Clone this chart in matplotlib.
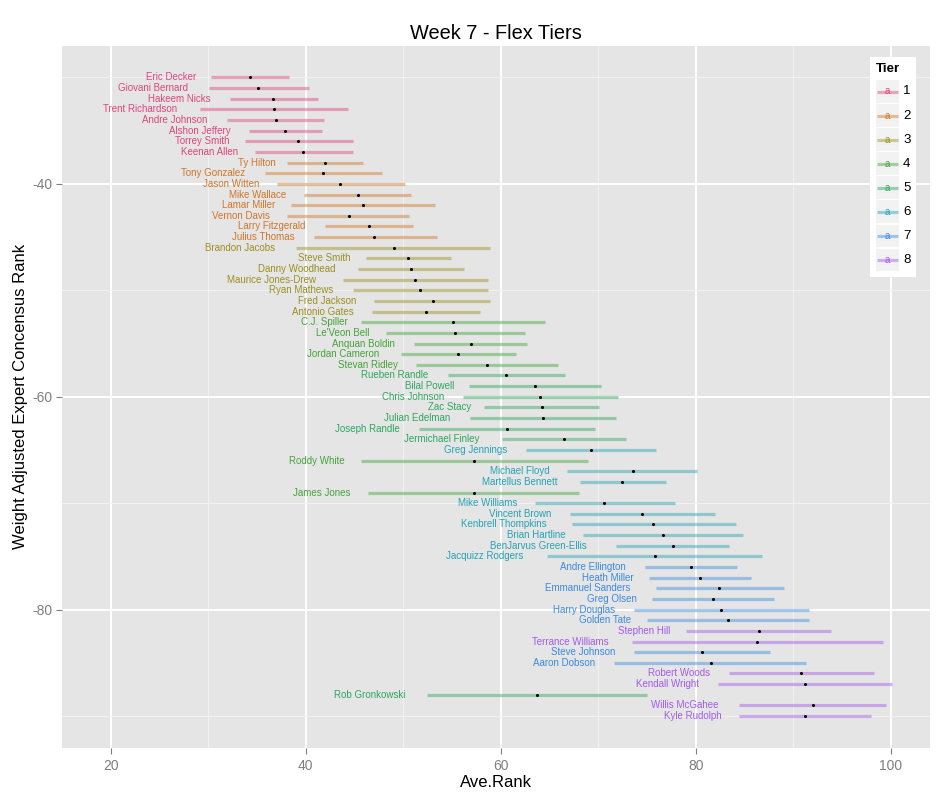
import matplotlib
matplotlib.use('Agg')
import matplotlib.pyplot as plt
from matplotlib.transforms import ScaledTranslation
from matplotlib.patches import Rectangle
from matplotlib.lines import Line2D

players = ["Eric Decker", "Giovani Bernard", "Hakeem Nicks", "Trent Richardson", "Andre Johnson",
           "Alshon Jeffery", "Torrey Smith", "Keenan Allen", "Ty Hilton", "Tony Gonzalez",
           "Jason Witten", "Mike Wallace", "Lamar Miller", "Vernon Davis", "Larry Fitzgerald",
           "Julius Thomas", "Brandon Jacobs", "Steve Smith", "Danny Woodhead", "Maurice Jones-Drew",
           "Ryan Mathews", "Fred Jackson", "Antonio Gates", "C.J. Spiller", "Le'Veon Bell",
           "Anquan Boldin", "Jordan Cameron", "Stevan Ridley", "Rueben Randle", "Bilal Powell",
           "Chris Johnson", "Zac Stacy", "Julian Edelman", "Joseph Randle", "Jermichael Finley",
           "Greg Jennings", "Roddy White", "Michael Floyd", "Martellus Bennett", "James Jones",
           "Mike Williams", "Vincent Brown", "Kenbrell Thompkins", "Brian Hartline",
           "BenJarvus Green-Ellis", "Jacquizz Rodgers", "Andre Ellington", "Heath Miller",
           "Emmanuel Sanders", "Greg Olsen", "Harry Douglas", "Golden Tate", "Stephen Hill",
           "Terrance Williams", "Steve Johnson", "Aaron Dobson", "Robert Woods", "Kendall Wright",
           "Rob Gronkowski", "Willis McGahee", "Kyle Rudolph"]

tiers = [1, 1, 1, 1, 1, 1, 1, 1, 2, 2,
         2, 2, 2, 2, 2, 2, 3, 3, 3, 3,
         3, 3, 3, 4, 4, 4, 4, 4, 5, 5,
         5, 5, 5, 5, 5, 6, 4, 6, 6, 4,
         6, 6, 6, 6, 6, 6, 7, 7, 7, 7,
         7, 7, 8, 8, 7, 7, 8, 8, 5, 8, 8]

consensus_rank = [-30, -31, -32, -33, -34, -35, -36, -37, -38, -39,
                  -40, -41, -42, -43, -44, -45, -46, -47, -48, -49,
                  -50, -51, -52, -53, -54, -55, -56, -57, -58, -59,
                  -60, -61, -62, -63, -64, -65, -66, -67, -68, -69,
                  -70, -71, -72, -73, -74, -75, -76, -77, -78, -79,
                  -80, -81, -82, -83, -84, -85, -86, -87, -88, -89, -90]

ave_rank = [34.3, 35.1, 36.6, 36.7, 36.9, 37.9, 39.2, 39.7, 41.95, 41.8,
            43.5, 45.3, 45.85, 44.4, 46.5, 47.0, 49.0, 50.5, 50.8, 51.2,
            51.7, 53.0, 52.3, 55.1, 55.3, 56.9, 55.65, 58.6, 60.5, 63.5,
            64.0, 64.2, 64.3, 60.6, 66.5, 69.2, 57.2, 73.5, 72.4, 57.2,
            70.6, 74.5, 75.6, 76.6, 77.6, 75.8, 79.5, 80.4, 82.4, 81.7,
            82.6, 83.3, 86.5, 86.3, 80.6, 81.5, 90.8, 91.2, 63.7, 92.0, 91.2]

rank_low = [30.3, 30.05, 32.2, 29.1, 31.9, 34.2, 33.8, 34.8, 38.05, 35.8,
            37.0, 39.8, 38.5, 38.1, 42.0, 40.8, 39.0, 46.2, 45.4, 43.8,
            44.8, 47.0, 46.8, 45.7, 48.2, 51.1, 49.8, 51.3, 54.6, 56.7,
            56.1, 58.3, 56.8, 51.6, 60.1, 62.6, 45.7, 66.8, 68.1, 46.4,
            63.5, 67.1, 67.3, 68.4, 71.8, 64.7, 74.8, 75.2, 75.9, 75.5,
            73.6, 75.0, 79.0, 73.4, 73.7, 71.6, 83.4, 82.3, 52.4, 84.4, 84.4]

rank_high = [38.3, 40.3, 41.2, 44.3, 41.9, 41.7, 44.8, 44.8, 45.9, 47.8,
             50.2, 50.8, 53.2, 50.6, 51.0, 53.4, 58.9, 54.9, 56.2, 58.7,
             58.7, 58.9, 57.9, 64.5, 62.5, 62.7, 61.6, 65.9, 66.6, 70.3,
             72.0, 70.1, 71.8, 69.6, 72.8, 75.9, 68.9, 80.1, 76.9, 68.0,
             77.9, 82.0, 84.1, 84.8, 83.4, 86.8, 84.2, 85.6, 89.0, 88.0,
             91.6, 91.6, 93.9, 99.2, 87.6, 91.3, 98.3, 100.1, 75.0, 99.5, 98.0]

tier_levels = [1, 2, 3, 4, 5, 6, 7, 8]
tier_colors = ['#E0457B', '#D0762A', '#9A9020', '#45A33A',
               '#2EA65E', '#25A3B5', '#3A8AE0', '#A25AEC']

x_ticks = [20, 40, 60, 80, 100]
y_ticks = [-80, -60, -40]

plt.rcParams['font.family'] = ['Liberation Sans', 'DejaVu Sans']
plt.rcParams['axes.unicode_minus'] = False

W, H = 950, 800
fig = plt.figure(figsize=(W / 100, H / 100), dpi=100)
fig.patch.set_facecolor('white')
ax = fig.add_axes([62 / W, 52 / H, 868 / W, 702.5 / H])
ax.set_facecolor('#E5E5E5')
ax.set_xlim(15, 104)
ax.set_ylim(-93.0, -27.0)
ax.set_xticks(x_ticks)
ax.set_xticks([30, 50, 70, 90], minor=True)
ax.set_yticks(y_ticks)
ax.set_yticks([-90, -70, -50, -30], minor=True)
ax.grid(which='major', color='white', linewidth=1.4)
ax.grid(which='minor', color='#F2F2F2', linewidth=0.7)
ax.set_axisbelow(True)
for s in ax.spines.values():
    s.set_visible(False)
ax.tick_params(which='major', color='#7F7F7F', length=4, width=0.8,
               labelcolor='#7F7F7F', labelsize=10)
ax.tick_params(axis='x', which='major', pad=4)
ax.tick_params(axis='y', which='major', pad=3)
ax.tick_params(which='minor', length=0)

col = {t: c for t, c in zip(tier_levels, tier_colors)}

for lo, hi, y, t in zip(rank_low, rank_high, consensus_rank, tiers):
    ax.plot([lo, hi], [y, y], color=col[t], alpha=0.45, linewidth=2.3,
            solid_capstyle='butt', zorder=2)
ax.scatter(ave_rank, consensus_rank, s=5, color='black', zorder=3, linewidths=0)

texts = []
for name, lo, y, t in zip(players, rank_low, consensus_rank, tiers):
    tx = ax.text(lo, y, name, ha='right', va='center', fontsize=7, color=col[t], zorder=4)
    texts.append(tx)

fig.canvas.draw()
r = fig.canvas.get_renderer()
for tx in texts:
    bb = tx.get_window_extent(renderer=r)
    shift = -0.3 * bb.width / fig.dpi
    tx.set_transform(ax.transData + ScaledTranslation(shift, 0, fig.dpi_scale_trans))

ax.set_title('Week 7 - Flex Tiers', fontsize=14.4, pad=5)
ax.set_xlabel('Ave.Rank', fontsize=12, labelpad=1.5)
ax.set_ylabel('Weight Adjusted Expert Concensus Rank', fontsize=12, labelpad=3)


def fx(px):
    return px / W


def fy(py):
    return 1 - py / H


# legend (drawn manually, ggplot style)
fig.add_artist(Rectangle((fx(870), fy(277)), (916 - 870) / W, (277 - 57.5) / H,
                         transform=fig.transFigure, facecolor='white', edgecolor='none', zorder=5))
fig.text(fx(876), fy(69.5), 'Tier', fontsize=9.6, fontweight='bold', ha='left', va='center', zorder=6)
for i, t in enumerate(tier_levels):
    cy = 91.5 + i * 24.05
    fig.add_artist(Rectangle((fx(876), fy(cy + 11.3)), 23 / W, 22.6 / H, transform=fig.transFigure,
                             facecolor='#F2F2F2', edgecolor='none', zorder=6))
    fig.add_artist(Line2D([fx(877), fx(898)], [fy(cy), fy(cy)], transform=fig.transFigure,
                          color=col[t], alpha=0.45, linewidth=2.3, solid_capstyle='butt', zorder=7))
    fig.text(fx(887.5), fy(cy), 'a', fontsize=7, color=col[t], ha='center', va='center', zorder=8)
    fig.text(fx(903), fy(cy), str(t), fontsize=9.6, color='black', ha='left', va='center', zorder=8)

fig.savefig('out.png', dpi=100)
